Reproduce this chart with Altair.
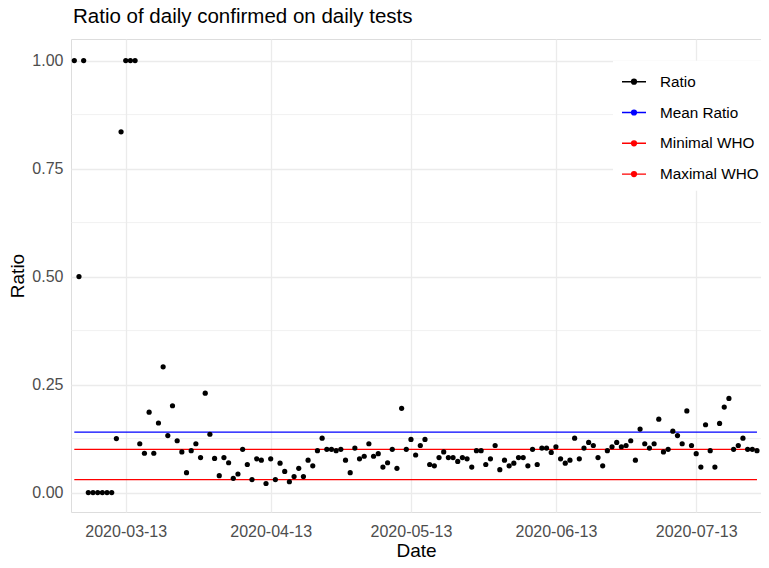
import altair as alt
import pandas as pd

# ---- data ----
start_date = "2020-03-02"
end_date = "2020-07-26"
ratio = [
    # March 2 - 31
    1.0, 0.5, 1.0, 0.0, 0.0, 0.0, 0.0, 0.0, 0.0, 0.125,
    0.835, 1.0, 1.0, 1.0, 0.113, 0.091, 0.186, 0.091, 0.161, 0.291,
    0.132, 0.201, 0.12, 0.094, 0.046, 0.097, 0.113, 0.081, 0.23, 0.135,
    # April 1 - 30
    0.079, 0.039, 0.081, 0.069, 0.033, 0.043, 0.10, 0.065, 0.03, 0.078,
    0.075, 0.021, 0.078, 0.03, 0.068, 0.049, 0.025, 0.037, 0.056, 0.037,
    0.075, 0.062, 0.097, 0.126, 0.10, 0.10, 0.097, 0.10, 0.075, 0.046,
    # May 1 - 31
    0.103, 0.078, 0.084, 0.113, 0.084, 0.09, 0.059, 0.069, 0.10, 0.056,
    0.195, 0.10, 0.123, 0.087, 0.109, 0.123, 0.065, 0.062, 0.081, 0.094,
    0.081, 0.081, 0.072, 0.081, 0.078, 0.059, 0.097, 0.097, 0.065, 0.078,
    0.109,
    # June 1 - 30
    0.053, 0.075, 0.062, 0.068, 0.081, 0.081, 0.062, 0.10, 0.065, 0.103,
    0.103, 0.093, 0.106, 0.078, 0.068, 0.075, 0.126, 0.078, 0.103, 0.116,
    0.109, 0.081, 0.062, 0.097, 0.106, 0.116, 0.106, 0.109, 0.12, 0.075,
    # July 1 - 26
    0.147, 0.113, 0.103, 0.113, 0.17, 0.094, 0.10, 0.142, 0.132, 0.113,
    0.189, 0.109, 0.09, 0.059, 0.157, 0.097, 0.059, 0.16, 0.198, 0.218,
    0.10, 0.109, 0.126, 0.10, 0.10, 0.097,
]
mean_ratio = 0.14
who_min = 0.03
who_max = 0.10

series_names = ["Ratio", "Mean Ratio", "Minimal WHO", "Maximal WHO"]
series_colors = ["black", "blue", "red", "red"]
y_major = [0, 0.25, 0.5, 0.75, 1.0]
y_minor = [0.125, 0.375, 0.625, 0.875]
x_tick_months = [3, 4, 5, 6, 7]

dates = pd.date_range(start_date, end_date, freq="D").strftime("%Y-%m-%d").tolist()
assert len(dates) == len(ratio)

points_df = pd.DataFrame({"date": dates, "value": ratio, "series": "Ratio"})
lines_df = pd.DataFrame({
    "date": [dates[0], dates[-1]] * 3,
    "value": [mean_ratio, mean_ratio, who_min, who_min, who_max, who_max],
    "series": ["Mean Ratio"] * 2 + ["Minimal WHO"] * 2 + ["Maximal WHO"] * 2,
})
minor_df = pd.DataFrame({"v": y_minor})

FONT = "Liberation Sans"

xscale = alt.Scale(
    type="utc",
    domain=[
        alt.DateTime(year=2020, month=3, date=1, hours=7, minutes=3, utc=True),
        alt.DateTime(year=2020, month=7, date=26, hours=20, minutes=38, utc=True),
    ],
)
yscale = alt.Scale(domain=[-0.045, 1.05], nice=False, zero=False)

xaxis = alt.Axis(
    values=[alt.DateTime(year=2020, month=m, date=13, utc=True) for m in x_tick_months],
    labelExpr="utcFormat(datum.value, '%Y-%m-%d')",
    grid=True, gridColor="#EBEBEB", gridWidth=1.3,
    ticks=False, tickSize=0, domain=False,
    labelFont=FONT, labelFontSize=16, labelColor="#4D4D4D", labelPadding=11,
    labelFlush=False, labelOverlap=False,
    titleFont=FONT, titleFontSize=19, titleColor="black", titleFontWeight="normal",
    titleY=38, titleBaseline="middle",
)
yaxis = alt.Axis(
    values=y_major, format=".2f",
    grid=True, gridColor="#EBEBEB", gridWidth=1.3,
    ticks=False, tickSize=0, domain=False,
    labelFont=FONT, labelFontSize=16, labelColor="#4D4D4D", labelPadding=8,
    titleFont=FONT, titleFontSize=19, titleColor="black", titleFontWeight="normal",
    titleX=-53.5, titleBaseline="middle", titleAlign="center",
)

symbol_path = "M-1,0L1,0M-0.2,0A0.2,0.2,0,1,1,0.2,0A0.2,0.2,0,1,1,-0.2,0Z"
legend = alt.Legend(
    title=None, orient="none", legendX=542, legendY=21.7,
    symbolType=symbol_path, symbolSize=576, symbolStrokeWidth=1.4,
    symbolOpacity=1,
    labelFont=FONT, labelFontSize=15.3, labelColor="black",
    labelOffset=13, rowPadding=8.8, padding=8, fillColor="white",
)
fill_scale = alt.Scale(domain=series_names, range=series_colors)
stroke_scale = alt.Scale(domain=series_names, range=series_colors)

minor = alt.Chart(minor_df).mark_rule(color="#EBEBEB", strokeWidth=0.7).encode(
    y=alt.Y("v:Q", scale=yscale, axis=yaxis, title="Ratio"),
)

lines = alt.Chart(lines_df).mark_line(strokeWidth=1.4).encode(
    x=alt.X("date:T", scale=xscale, axis=xaxis, title="Date"),
    y=alt.Y("value:Q", scale=yscale, axis=yaxis, title="Ratio"),
    stroke=alt.Stroke("series:N", scale=stroke_scale, legend=legend),
    detail="series:N",
)

points = alt.Chart(points_df).mark_point(filled=True, size=27, opacity=1, strokeWidth=0).encode(
    x=alt.X("date:T", scale=xscale, axis=xaxis, title="Date"),
    y=alt.Y("value:Q", scale=yscale, axis=yaxis, title="Ratio"),
    fill=alt.Fill("series:N", scale=fill_scale, legend=legend),
)

chart = alt.layer(minor, lines, points).properties(
    width=690,
    height=473,
    autosize=alt.AutoSizeParams(type="none"),
    padding={"left": 63, "top": 31, "right": 0, "bottom": 48},
    title=alt.TitleParams(
        text="Ratio of daily confirmed on daily tests",
        anchor="start", frame="group", fontSize=20.5, font=FONT,
        fontWeight="normal", color="black", baseline="alphabetic",
        offset=-4, dx=2,
    ),
).configure_view(stroke="transparent").configure(background="white")

chart.save("out.html", embed_options={"renderer": "svg", "actions": False})
